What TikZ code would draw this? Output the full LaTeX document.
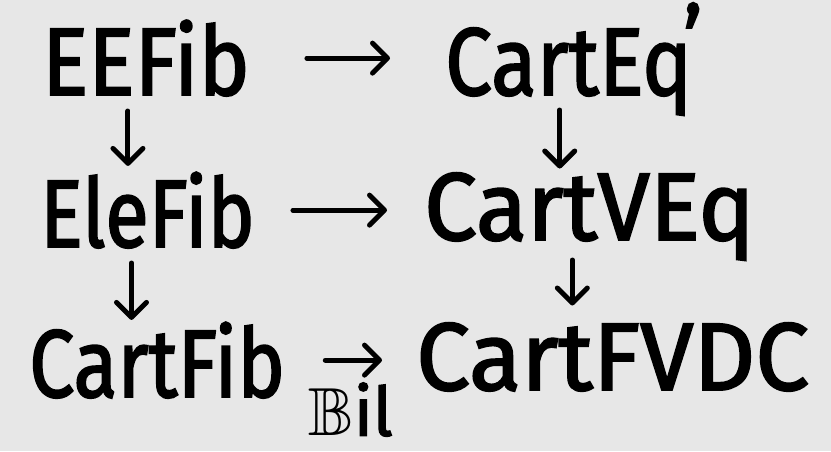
\documentclass[tikz,border=0pt]{standalone}
\usepackage{amssymb}
\usepackage{fontspec}
\setmainfont{Fira Sans}[FakeBold=2]
\usetikzlibrary{arrows.meta}
\definecolor{paper}{RGB}{231,231,231}

\tikzset{
  obj/.style={anchor=base west, inner sep=0pt, font=\fontsize{96}{100}\selectfont},
  map/.style={->, line width=5pt, line cap=round},
}

\begin{document}
\begin{tikzpicture}[x=1pt, y=-1pt, >={Straight Barb[length=15pt,width=30pt,round]}]
  \fill[paper] (0,0) rectangle (831,451);
  \useasboundingbox (0,0) rectangle (831,451);
  % objects
  \node[obj] (eefib) at (42,95) {\scalebox{0.90}[1]{EEFib}};
  \node[obj] (carteq) at (445,95) {\scalebox{0.87}[1]{CartEq\kern-10pt\raisebox{20pt}{’}}};
  \node[obj] (elefib) at (40,247) {\scalebox{0.83}[1]{EleFib}};
  \node[obj] (cartveq) at (424,240) {\scalebox{0.98}[1]{CartVEq}};
  \node[obj] (cartfib) at (29,397) {\scalebox{0.84}[1]{CartFib}};
  \node[obj] (cartfvdc) at (416,390) {CartFVDC};
  % horizontal maps
  \draw[map, shorten <=57pt, shorten >=55pt] (eefib.east) -- (eefib.east -| carteq.west);
  \draw[map, shorten <=38pt, shorten >=37pt] (elefib.east) -- (elefib.east -| cartveq.west);
  \draw[map, shorten <=40pt, shorten >=34pt] (cartfib.east) -- (cartfib.east -| cartfvdc.west)
    node[midway, below=20pt, inner sep=0pt, font=\fontsize{68}{72}\selectfont] (bil) {$\mathbb{B}$il};
  % vertical maps
  \draw[map, shorten <=16pt, shorten >=6pt] ([xshift=-18pt]eefib.base) -- ([xshift=-18pt]eefib.base |- elefib.north);
  \draw[map, shorten <=16pt, shorten >=2pt] ([xshift=-16pt]elefib.base) -- ([xshift=-16pt]elefib.base |- cartfib.north);
  \draw[map, shorten <=15pt, shorten >=4pt] ([xshift=-14pt]carteq.base) -- ([xshift=-14pt]carteq.base |- cartveq.north);
  \draw[map, shorten <=20pt, shorten >=17pt] ([xshift=-17pt]cartveq.base) -- ([xshift=-17pt]cartveq.base |- cartfvdc.north);
\end{tikzpicture}
\end{document}
